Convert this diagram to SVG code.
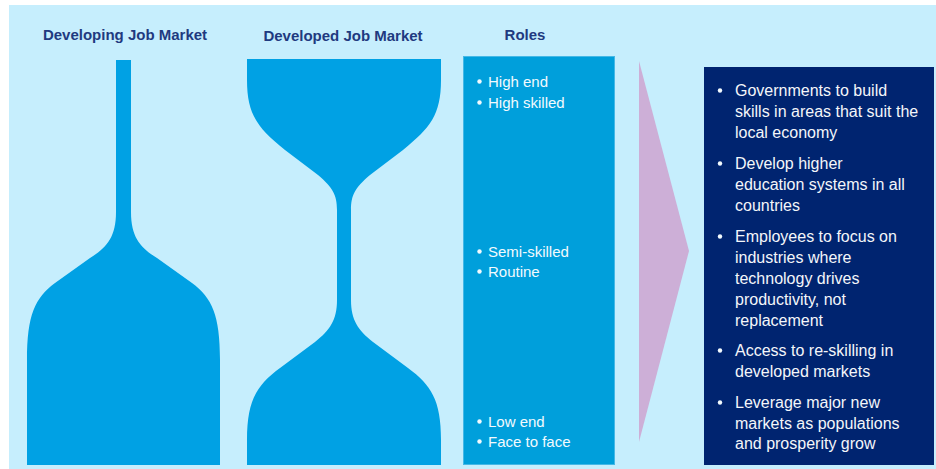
<svg xmlns="http://www.w3.org/2000/svg" width="936" height="469" viewBox="0 0 936 469">
<style>
.hdr{font-family:"Liberation Sans",Arial,sans-serif;font-weight:bold;font-size:15px;fill:#1F3A80;text-anchor:middle}
.glass{fill:#00A1E4}
.role{font-family:"Liberation Sans",Arial,sans-serif;font-size:15px;fill:#F2FAFE}
.pt{font-family:"Liberation Sans",Arial,sans-serif;font-size:16px;fill:#F4F6FA}
.dotw{fill:#F2FAFE}
</style>
<rect x="0" y="0" width="936" height="469" fill="#FFFFFF"/>
<rect x="9" y="5" width="927" height="464" fill="#C6EEFD"/>

<g id="developing">
<text class="hdr" x="125" y="40">Developing Job Market</text>
<path class="glass" d="M116,60 L116,212 C116,238 106,248 90,258 L55,283 C35,298 27,315 27,360 L27,465 L220,465 L220,360 C220,315 212,298 192,283 L157,258 C141,248 131,238 131,212 L131,60 Z"/>
</g>

<g id="developed">
<text class="hdr" x="343" y="41">Developed Job Market</text>
<path class="glass" d="M247,59 L441,59 L441,80 C441,115 430,128 403,150 L370,175 C355,188 351,195 351,210 L351,300 C351,320 358,330 373,342 L408,368 C431,385 441,400 441,440 L441,465 L247,465 L247,440 C247,400 257,385 280,368 L315,342 C330,330 337,320 337,300 L337,210 C337,195 333,188 318,175 L285,150 C258,128 247,115 247,80 Z"/>
</g>

<g id="roles">
<text class="hdr" x="525" y="40">Roles</text>
<rect x="463.5" y="56.5" width="151" height="408" fill="#009FDB" stroke="#45B8E6" stroke-width="1"/>
<circle class="dotw" cx="479.5" cy="81.5" r="2.2"/>
<text class="role" x="488" y="87">High end</text>
<circle class="dotw" cx="479.5" cy="102.5" r="2.2"/>
<text class="role" x="488" y="108">High skilled</text>
<circle class="dotw" cx="479.5" cy="251.5" r="2.2"/>
<text class="role" x="488" y="257">Semi-skilled</text>
<circle class="dotw" cx="479.5" cy="271.5" r="2.2"/>
<text class="role" x="488" y="277">Routine</text>
<circle class="dotw" cx="479.5" cy="421.5" r="2.2"/>
<text class="role" x="488" y="427">Low end</text>
<circle class="dotw" cx="479.5" cy="441.5" r="2.2"/>
<text class="role" x="488" y="447">Face to face</text>
</g>

<g id="connectors">
<polygon points="639,61 689,251 639,442" fill="#CDAFD7"/>
</g>

<g id="actions">
<rect x="704" y="67" width="230" height="398" fill="#002470"/>
<g class="dotw">
<circle cx="720" cy="90.5" r="2.2"/>
<circle cx="720" cy="163.5" r="2.2"/>
<circle cx="720" cy="236.5" r="2.2"/>
<circle cx="720" cy="350.5" r="2.2"/>
<circle cx="720" cy="402.5" r="2.2"/>
</g>
<text class="pt" x="735" y="96">Governments to build</text>
<text class="pt" x="735" y="117">skills in areas that suit the</text>
<text class="pt" x="735" y="138">local economy</text>
<text class="pt" x="735" y="169">Develop higher</text>
<text class="pt" x="735" y="190">education systems in all</text>
<text class="pt" x="735" y="211">countries</text>
<text class="pt" x="735" y="242">Employees to focus on</text>
<text class="pt" x="735" y="263">industries where</text>
<text class="pt" x="735" y="284">technology drives</text>
<text class="pt" x="735" y="305">productivity, not</text>
<text class="pt" x="735" y="326">replacement</text>
<text class="pt" x="735" y="356">Access to re-skilling in</text>
<text class="pt" x="735" y="377">developed markets</text>
<text class="pt" x="735" y="408">Leverage major new</text>
<text class="pt" x="735" y="429">markets as populations</text>
<text class="pt" x="735" y="449">and prosperity grow</text>
</g>
</svg>
